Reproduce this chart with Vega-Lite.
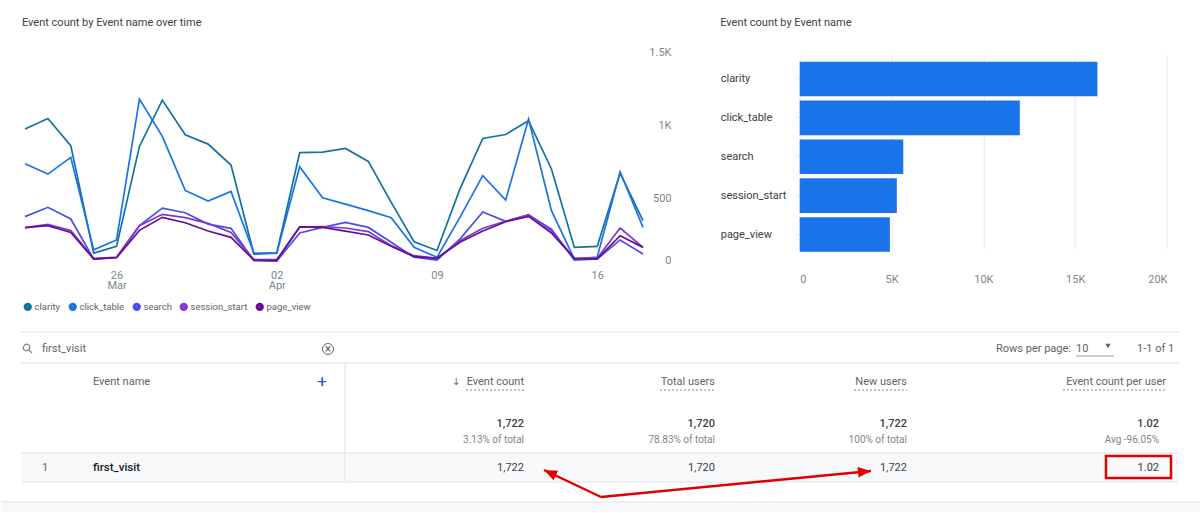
{
  "$schema": "https://vega.github.io/schema/vega-lite/v6.json",
  "background": "white",
  "padding": {"left": 0, "top": 17, "right": 0, "bottom": 0},
  "config": {
    "font": "Roboto",
    "view": {"stroke": null},
    "title": {"font": "Roboto", "fontSize": 11, "fontWeight": 400, "color": "#3c4043"}
  },
  "datasets": {
    "events": [
      {"date":"2023-03-22T00:00:00","event":"clarity","count":933},{"date":"2023-03-23T00:00:00","event":"clarity","count":1006},{"date":"2023-03-24T00:00:00","event":"clarity","count":819},{"date":"2023-03-25T00:00:00","event":"clarity","count":82},{"date":"2023-03-26T00:00:00","event":"clarity","count":128},{"date":"2023-03-27T00:00:00","event":"clarity","count":814},{"date":"2023-03-28T00:00:00","event":"clarity","count":1132},{"date":"2023-03-29T00:00:00","event":"clarity","count":894},{"date":"2023-03-30T00:00:00","event":"clarity","count":830},{"date":"2023-03-31T00:00:00","event":"clarity","count":686},
      {"date":"2023-04-01T00:00:00","event":"clarity","count":75},{"date":"2023-04-02T00:00:00","event":"clarity","count":82},{"date":"2023-04-03T00:00:00","event":"clarity","count":771},{"date":"2023-04-04T00:00:00","event":"clarity","count":775},{"date":"2023-04-05T00:00:00","event":"clarity","count":800},{"date":"2023-04-06T00:00:00","event":"clarity","count":711},{"date":"2023-04-07T00:00:00","event":"clarity","count":430},{"date":"2023-04-08T00:00:00","event":"clarity","count":160},{"date":"2023-04-09T00:00:00","event":"clarity","count":100},{"date":"2023-04-10T00:00:00","event":"clarity","count":521},
      {"date":"2023-04-11T00:00:00","event":"clarity","count":869},{"date":"2023-04-12T00:00:00","event":"clarity","count":896},{"date":"2023-04-13T00:00:00","event":"clarity","count":990},{"date":"2023-04-14T00:00:00","event":"clarity","count":659},{"date":"2023-04-15T00:00:00","event":"clarity","count":121},{"date":"2023-04-16T00:00:00","event":"clarity","count":128},{"date":"2023-04-17T00:00:00","event":"clarity","count":631},{"date":"2023-04-18T00:00:00","event":"clarity","count":304},

      {"date":"2023-03-22T00:00:00","event":"click_table","count":695},{"date":"2023-03-23T00:00:00","event":"click_table","count":624},{"date":"2023-03-24T00:00:00","event":"click_table","count":739},{"date":"2023-03-25T00:00:00","event":"click_table","count":105},{"date":"2023-03-26T00:00:00","event":"click_table","count":172},{"date":"2023-03-27T00:00:00","event":"click_table","count":1139},{"date":"2023-03-28T00:00:00","event":"click_table","count":883},{"date":"2023-03-29T00:00:00","event":"click_table","count":512},{"date":"2023-03-30T00:00:00","event":"click_table","count":439},{"date":"2023-03-31T00:00:00","event":"click_table","count":505},
      {"date":"2023-04-01T00:00:00","event":"click_table","count":82},{"date":"2023-04-02T00:00:00","event":"click_table","count":82},{"date":"2023-04-03T00:00:00","event":"click_table","count":675},{"date":"2023-04-04T00:00:00","event":"click_table","count":462},{"date":"2023-04-05T00:00:00","event":"click_table","count":418},{"date":"2023-04-06T00:00:00","event":"click_table","count":373},{"date":"2023-04-07T00:00:00","event":"click_table","count":325},{"date":"2023-04-08T00:00:00","event":"click_table","count":121},{"date":"2023-04-09T00:00:00","event":"click_table","count":53},{"date":"2023-04-10T00:00:00","event":"click_table","count":327},
      {"date":"2023-04-11T00:00:00","event":"click_table","count":613},{"date":"2023-04-12T00:00:00","event":"click_table","count":446},{"date":"2023-04-13T00:00:00","event":"click_table","count":1002},{"date":"2023-04-14T00:00:00","event":"click_table","count":373},{"date":"2023-04-15T00:00:00","event":"click_table","count":41},{"date":"2023-04-16T00:00:00","event":"click_table","count":55},{"date":"2023-04-17T00:00:00","event":"click_table","count":640},{"date":"2023-04-18T00:00:00","event":"click_table","count":258},

      {"date":"2023-03-22T00:00:00","event":"search","count":332},{"date":"2023-03-23T00:00:00","event":"search","count":396},{"date":"2023-03-24T00:00:00","event":"search","count":316},{"date":"2023-03-25T00:00:00","event":"search","count":41},{"date":"2023-03-26T00:00:00","event":"search","count":53},{"date":"2023-03-27T00:00:00","event":"search","count":270},{"date":"2023-03-28T00:00:00","event":"search","count":391},{"date":"2023-03-29T00:00:00","event":"search","count":359},{"date":"2023-03-30T00:00:00","event":"search","count":281},{"date":"2023-03-31T00:00:00","event":"search","count":252},
      {"date":"2023-04-01T00:00:00","event":"search","count":30},{"date":"2023-04-02T00:00:00","event":"search","count":27},{"date":"2023-04-03T00:00:00","event":"search","count":220},{"date":"2023-04-04T00:00:00","event":"search","count":258},{"date":"2023-04-05T00:00:00","event":"search","count":293},{"date":"2023-04-06T00:00:00","event":"search","count":258},{"date":"2023-04-07T00:00:00","event":"search","count":156},{"date":"2023-04-08T00:00:00","event":"search","count":53},{"date":"2023-04-09T00:00:00","event":"search","count":34},{"date":"2023-04-10T00:00:00","event":"search","count":178},
      {"date":"2023-04-11T00:00:00","event":"search","count":364},{"date":"2023-04-12T00:00:00","event":"search","count":300},{"date":"2023-04-13T00:00:00","event":"search","count":343},{"date":"2023-04-14T00:00:00","event":"search","count":247},{"date":"2023-04-15T00:00:00","event":"search","count":34},{"date":"2023-04-16T00:00:00","event":"search","count":41},{"date":"2023-04-17T00:00:00","event":"search","count":172},{"date":"2023-04-18T00:00:00","event":"search","count":75},

      {"date":"2023-03-22T00:00:00","event":"session_start","count":256},{"date":"2023-03-23T00:00:00","event":"session_start","count":279},{"date":"2023-03-24T00:00:00","event":"session_start","count":236},{"date":"2023-03-25T00:00:00","event":"session_start","count":46},{"date":"2023-03-26T00:00:00","event":"session_start","count":53},{"date":"2023-03-27T00:00:00","event":"session_start","count":270},{"date":"2023-03-28T00:00:00","event":"session_start","count":348},{"date":"2023-03-29T00:00:00","event":"session_start","count":325},{"date":"2023-03-30T00:00:00","event":"session_start","count":286},{"date":"2023-03-31T00:00:00","event":"session_start","count":224},
      {"date":"2023-04-01T00:00:00","event":"session_start","count":37},{"date":"2023-04-02T00:00:00","event":"session_start","count":37},{"date":"2023-04-03T00:00:00","event":"session_start","count":261},{"date":"2023-04-04T00:00:00","event":"session_start","count":263},{"date":"2023-04-05T00:00:00","event":"session_start","count":254},{"date":"2023-04-06T00:00:00","event":"session_start","count":229},{"date":"2023-04-07T00:00:00","event":"session_start","count":133},{"date":"2023-04-08T00:00:00","event":"session_start","count":64},{"date":"2023-04-09T00:00:00","event":"session_start","count":46},{"date":"2023-04-10T00:00:00","event":"session_start","count":167},
      {"date":"2023-04-11T00:00:00","event":"session_start","count":252},{"date":"2023-04-12T00:00:00","event":"session_start","count":300},{"date":"2023-04-13T00:00:00","event":"session_start","count":345},{"date":"2023-04-14T00:00:00","event":"session_start","count":236},{"date":"2023-04-15T00:00:00","event":"session_start","count":46},{"date":"2023-04-16T00:00:00","event":"session_start","count":46},{"date":"2023-04-17T00:00:00","event":"session_start","count":254},{"date":"2023-04-18T00:00:00","event":"session_start","count":121},

      {"date":"2023-03-22T00:00:00","event":"page_view","count":256},{"date":"2023-03-23T00:00:00","event":"page_view","count":270},{"date":"2023-03-24T00:00:00","event":"page_view","count":224},{"date":"2023-03-25T00:00:00","event":"page_view","count":41},{"date":"2023-03-26T00:00:00","event":"page_view","count":50},{"date":"2023-03-27T00:00:00","event":"page_view","count":238},{"date":"2023-03-28T00:00:00","event":"page_view","count":327},{"date":"2023-03-29T00:00:00","event":"page_view","count":290},{"date":"2023-03-30T00:00:00","event":"page_view","count":233},{"date":"2023-03-31T00:00:00","event":"page_view","count":190},
      {"date":"2023-04-01T00:00:00","event":"page_view","count":34},{"date":"2023-04-02T00:00:00","event":"page_view","count":32},{"date":"2023-04-03T00:00:00","event":"page_view","count":261},{"date":"2023-04-04T00:00:00","event":"page_view","count":258},{"date":"2023-04-05T00:00:00","event":"page_view","count":233},{"date":"2023-04-06T00:00:00","event":"page_view","count":206},{"date":"2023-04-07T00:00:00","event":"page_view","count":128},{"date":"2023-04-08T00:00:00","event":"page_view","count":57},{"date":"2023-04-09T00:00:00","event":"page_view","count":46},{"date":"2023-04-10T00:00:00","event":"page_view","count":156},
      {"date":"2023-04-11T00:00:00","event":"page_view","count":233},{"date":"2023-04-12T00:00:00","event":"page_view","count":297},{"date":"2023-04-13T00:00:00","event":"page_view","count":334},{"date":"2023-04-14T00:00:00","event":"page_view","count":220},{"date":"2023-04-15T00:00:00","event":"page_view","count":46},{"date":"2023-04-16T00:00:00","event":"page_view","count":41},{"date":"2023-04-17T00:00:00","event":"page_view","count":201},{"date":"2023-04-18T00:00:00","event":"page_view","count":121}
    ],
    "totals": [
      {"event":"clarity","count":16210},
      {"event":"click_table","count":11985},
      {"event":"search","count":5640},
      {"event":"session_start","count":5290},
      {"event":"page_view","count":4910}
    ],
    "gridlines": [{"count":0},{"count":500},{"count":1000},{"count":1500}],
    "cells": [
      {"kind":"plain","text":"first_visit","col":3,"row":3},
      {"kind":"plain","text":"1","col":3,"row":12},
      {"kind":"plain","text":"Rows per page:","col":18,"row":3},
      {"kind":"plain","text":"10","col":20,"row":3},
      {"kind":"plain","text":"1-1 of 1","col":24,"row":3},
      {"kind":"headLeft","text":"Event name","col":4,"row":6},
      {"kind":"name","text":"first_visit","col":4,"row":12},
      {"kind":"head","text":"Event count","col":10,"row":6},
      {"kind":"head","text":"Total users","col":14,"row":6},
      {"kind":"head","text":"New users","col":17,"row":6},
      {"kind":"head","text":"Event count per user","col":26,"row":6},
      {"kind":"total","text":"1,722","col":10,"row":8},
      {"kind":"total","text":"1,720","col":14,"row":8},
      {"kind":"total","text":"1,722","col":17,"row":8},
      {"kind":"total","text":"1.02","col":25,"row":8},
      {"kind":"sub","text":"3.13% of total","col":10,"row":9},
      {"kind":"sub","text":"78.83% of total","col":14,"row":9},
      {"kind":"sub","text":"100% of total","col":17,"row":9},
      {"kind":"sub","text":"Avg -96.05%","col":25,"row":9},
      {"kind":"body","text":"1,722","col":10,"row":12},
      {"kind":"body","text":"1,720","col":14,"row":12},
      {"kind":"body","text":"1,722","col":17,"row":12},
      {"kind":"body","text":"1.02","col":25,"row":12},
      {"kind":"plus","text":"+","col":5,"row":6},
      {"kind":"sortArrow","text":"↓","col":8,"row":6},
      {"kind":"clear","text":"×","col":6,"row":3}
    ],
    "fills": [
      {"col":1,"col2":28,"row":10,"row2":16},
      {"col":0,"col2":29,"row":18,"row2":19}
    ],
    "hlines": [
      {"col":1,"col2":28,"row":1},
      {"col":1,"col2":28,"row":5},
      {"col":1,"col2":28,"row":10},
      {"col":1,"col2":28,"row":16},
      {"col":0,"col2":29,"row":18}
    ],
    "dashes": [
      {"col":9,"col2":10,"row":7},
      {"col":13,"col2":14,"row":7},
      {"col":15,"col2":17,"row":7},
      {"col":19,"col2":26,"row":7}
    ],
    "arrows": [
      {"name":"count","col":12,"row":17,"col2":11,"row2":13},
      {"name":"newUsers","col":12,"row":17,"col2":16,"row2":14}
    ]
  },
  "spacing": 287,
  "bounds": "flush",
  "vconcat": [
    {
      "spacing": 156.7,
      "bounds": "flush",
      "hconcat": [
        {
          "width": 642,
          "height": 224,
          "title": {"text": "Event count by Event name over time", "anchor": "start", "frame": "group", "dx": 21, "offset": 14},
          "encoding": {
            "x": {
              "field": "date",
              "type": "temporal",
              "scale": {
                "domain": [{"year": 2023, "month": 3, "date": 22}, {"year": 2023, "month": 4, "date": 18}],
                "range": [24, 642]
              },
              "axis": {
                "title": null,
                "grid": false,
                "domain": false,
                "ticks": false,
                "values": [{"year": 2023, "month": 3, "date": 26}, {"year": 2023, "month": 4, "date": 2}, {"year": 2023, "month": 4, "date": 9}, {"year": 2023, "month": 4, "date": 16}],
                "labelExpr": "timeFormat(datum.value, '%d') == '26' ? ['26', 'Mar'] : timeFormat(datum.value, '%d') == '02' ? ['02', 'Apr'] : timeFormat(datum.value, '%d')",
                "labelColor": "#80868b",
                "labelFontSize": 11,
                "labelLineHeight": 10,
                "labelPadding": 3
              }
            },
            "y": {
              "field": "count",
              "type": "quantitative",
              "scale": {"domain": [0, 1500], "range": [223, 4.5], "nice": false},
              "axis": {
                "title": null,
                "orient": "right",
                "grid": false,
                "domain": false,
                "ticks": false,
                "values": [0, 500, 1000, 1500],
                "labelExpr": "datum.value == 0 ? '0' : datum.value == 500 ? '500' : datum.value / 1000 + 'K'",
                "labelColor": "#80868b",
                "labelFontSize": 11,
                "labelAlign": "right",
                "labelPadding": 28,
                "labelBaseline": {"condition": {"test": "datum.value == 0", "value": "bottom"}, "value": "top"}
              }
            }
          },
          "layer": [
            {
              "data": {"name": "gridlines"},
              "mark": {"type": "rule", "color": "#f1f3f4", "strokeWidth": 1.2},
              "encoding": {
                "x": {"datum": {"year": 2023, "month": 3, "date": 22}},
                "x2": {"datum": {"year": 2023, "month": 4, "date": 18}}
              }
            },
            {
              "data": {"name": "gridlines"},
              "mark": {"type": "rule", "color": "#f1f3f4", "strokeWidth": 1.2},
              "encoding": {
                "x": {"datum": {"year": 2023, "month": 4, "date": 18, "hours": 5}},
                "x2": {"datum": {"year": 2023, "month": 4, "date": 19, "hours": 6}}
              }
            },
            {
              "data": {"name": "events"},
              "mark": {"type": "line", "strokeWidth": 1.7, "interpolate": "linear"},
              "encoding": {
                "color": {
                  "field": "event",
                  "type": "nominal",
                  "scale": {
                    "domain": ["clarity", "click_table", "search", "session_start", "page_view"],
                    "range": ["#12739f", "#1a73e8", "#4b4ee8", "#7b3ad0", "#6a0d91"]
                  },
                  "legend": {
                    "title": null,
                    "orient": "none",
                    "legendX": 22,
                    "legendY": 260,
                    "direction": "horizontal",
                    "columns": 5,
                    "columnPadding": 0,
                    "symbolType": "circle",
                    "symbolSize": 14,
                    "symbolStrokeWidth": 4.6,
                    "labelFontSize": 9.5,
                    "labelColor": "#5f6368",
                    "labelOffset": 2
                  }
                }
              }
            }
          ]
        },
        {
          "width": 367.3,
          "height": 224,
          "title": {"text": "Event count by Event name", "anchor": "start", "frame": "group", "dx": -79.5, "offset": 14},
          "data": {"name": "totals"},
          "mark": {"type": "bar", "color": "#1a73e8"},
          "encoding": {
            "x": {
              "field": "count",
              "type": "quantitative",
              "scale": {"domain": [0, 20000], "nice": false},
              "axis": {
                "title": null,
                "values": [0, 5000, 10000, 15000, 20000],
                "labelExpr": "datum.value == 0 ? '0' : datum.value / 1000 + 'K'",
                "grid": true,
                "gridColor": "#e8eaed",
                "domain": false,
                "ticks": false,
                "labelColor": "#80868b",
                "labelFontSize": 11,
                "labelPadding": 7
              }
            },
            "y": {
              "field": "event",
              "type": "nominal",
              "sort": null,
              "scale": {"range": [17.5, 212], "paddingInner": 0.11, "paddingOuter": 0.055},
              "axis": {
                "title": null,
                "domain": false,
                "tickColor": "#e8eaed",
                "tickSize": 4,
                "labelAlign": "left",
                "labelPadding": 75.5,
                "labelColor": "#3c4043",
                "labelFontSize": 11,
                "labelFontWeight": 400
              }
            }
          }
        }
      ]
    },
    {
      "width": 1200,
      "height": 183,
      "encoding": {
        "x": {
          "field": "col",
          "type": "quantitative",
          "axis": null,
          "scale": {
            "domain": [0,1,2,3,4,5,6,7,8,9,10,11,12,13,14,15,16,17,18,19,20,21,22,23,24,25,26,27,28,29],
            "range": [0,20,27,41,92,321,327,344,455,465,523,543,600,659,714,853,870,906,995,1062,1075,1105,1107,1113,1136,1158,1165,1170,1178,1200]
          }
        },
        "y": {
          "field": "row",
          "type": "quantitative",
          "axis": null,
          "scale": {
            "domain": [0,1,2,3,4,5,6,7,8,9,10,11,12,13,14,15,16,17,18,19],
            "range": [0,3,17,20,27,34,53,61,95,111,124,127,139,141,142,149,153,168,173,183]
          }
        }
      },
      "layer": [
        {
          "data": {"name": "fills"},
          "mark": {"type": "rect", "color": "#f8f9fb"},
          "encoding": {"x2": {"field": "col2"}, "y2": {"field": "row2"}}
        },
        {
          "data": {"name": "hlines"},
          "mark": {"type": "rule", "color": "#e8eaed", "strokeWidth": 1.5},
          "encoding": {"x2": {"field": "col2"}}
        },
        {
          "data": {"values": [{"col": 7, "row": 5, "row2": 16}]},
          "mark": {"type": "rule", "color": "#e8eaed", "strokeWidth": 1.5},
          "encoding": {"y2": {"field": "row2"}}
        },
        {
          "data": {"name": "dashes"},
          "mark": {"type": "rule", "color": "#80868b", "strokeWidth": 1, "strokeDash": [2, 2]},
          "encoding": {"x2": {"field": "col2"}}
        },
        {
          "data": {"name": "cells"},
          "transform": [{"filter": "datum.kind == 'plain'"}],
          "mark": {"type": "text", "align": "left", "baseline": "middle", "fontSize": 11, "color": "#5f6368"},
          "encoding": {"text": {"field": "text"}}
        },
        {
          "data": {"name": "cells"},
          "transform": [{"filter": "datum.kind == 'headLeft'"}],
          "mark": {"type": "text", "align": "left", "baseline": "middle", "fontSize": 11, "fontWeight": 400, "color": "#5f6368"},
          "encoding": {"text": {"field": "text"}}
        },
        {
          "data": {"name": "cells"},
          "transform": [{"filter": "datum.kind == 'name'"}],
          "mark": {"type": "text", "align": "left", "baseline": "middle", "fontSize": 11.5, "fontWeight": 500, "color": "#202124"},
          "encoding": {"text": {"field": "text"}}
        },
        {
          "data": {"name": "cells"},
          "transform": [{"filter": "datum.kind == 'head'"}],
          "mark": {"type": "text", "align": "right", "baseline": "middle", "fontSize": 11, "fontWeight": 400, "color": "#5f6368"},
          "encoding": {"text": {"field": "text"}}
        },
        {
          "data": {"name": "cells"},
          "transform": [{"filter": "datum.kind == 'total'"}],
          "mark": {"type": "text", "align": "right", "baseline": "middle", "fontSize": 11, "fontWeight": 500, "color": "#3c4043"},
          "encoding": {"text": {"field": "text"}}
        },
        {
          "data": {"name": "cells"},
          "transform": [{"filter": "datum.kind == 'sub'"}],
          "mark": {"type": "text", "align": "right", "baseline": "middle", "fontSize": 10, "color": "#80868b"},
          "encoding": {"text": {"field": "text"}}
        },
        {
          "data": {"name": "cells"},
          "transform": [{"filter": "datum.kind == 'body'"}],
          "mark": {"type": "text", "align": "right", "baseline": "middle", "fontSize": 11, "color": "#3c4043"},
          "encoding": {"text": {"field": "text"}}
        },
        {
          "data": {"name": "cells"},
          "transform": [{"filter": "datum.kind == 'plus'"}],
          "mark": {"type": "text", "align": "center", "baseline": "middle", "fontSize": 17, "color": "#1a56c4"},
          "encoding": {"text": {"field": "text"}}
        },
        {
          "data": {"name": "cells"},
          "transform": [{"filter": "datum.kind == 'sortArrow'"}],
          "mark": {"type": "text", "align": "center", "baseline": "middle", "font": "DejaVu Sans", "fontSize": 10, "color": "#5f6368"},
          "encoding": {"text": {"field": "text"}}
        },
        {
          "data": {"name": "cells"},
          "transform": [{"filter": "datum.kind == 'clear'"}],
          "mark": {"type": "text", "align": "center", "baseline": "middle", "fontSize": 12, "color": "#5f6368"},
          "encoding": {"text": {"field": "text"}}
        },
        {
          "data": {"values": [{"col": 6, "row": 3}]},
          "mark": {"type": "point", "shape": "circle", "size": 120, "filled": false, "color": "#5f6368", "strokeWidth": 1, "opacity": 1}
        },
        {
          "data": {"values": [{"col": 2, "row": 3}]},
          "mark": {"type": "point", "shape": "M-0.9,-0.9 A0.75,0.75 0 1,0 0.15,0.15 A0.75,0.75 0 1,0 -0.9,-0.9 M0.1,0.1 L1,1", "size": 64, "filled": false, "color": "#80868b", "strokeWidth": 1.3, "opacity": 1}
        },
        {
          "data": {"values": [{"col": 22, "row": 2}]},
          "mark": {"type": "point", "shape": "triangle-down", "size": 28, "filled": true, "color": "#5f6368", "opacity": 1}
        },
        {
          "data": {"values": [{"col": 20, "col2": 23, "row": 4}]},
          "mark": {"type": "rule", "color": "#9aa0a6", "strokeWidth": 1},
          "encoding": {"x2": {"field": "col2"}}
        },
        {
          "data": {"values": [{"col": 21, "col2": 27, "row": 11, "row2": 15}]},
          "mark": {"type": "rect", "fill": null, "stroke": "#e00000", "strokeWidth": 2.5},
          "encoding": {"x2": {"field": "col2"}, "y2": {"field": "row2"}}
        },
        {
          "data": {"name": "arrows"},
          "mark": {"type": "rule", "color": "#e00000", "strokeWidth": 2.4},
          "encoding": {"x2": {"field": "col2"}, "y2": {"field": "row2"}}
        },
        {
          "data": {"values": [{"col": 11, "row": 13}]},
          "mark": {"type": "point", "shape": "M0,0 L-2,-0.8 L-2,0.8 Z", "size": 169, "angle": 205, "filled": true, "color": "#e00000", "opacity": 1}
        },
        {
          "data": {"values": [{"col": 16, "row": 14}]},
          "mark": {"type": "point", "shape": "M0,0 L-2,-0.8 L-2,0.8 Z", "size": 169, "angle": 354.5, "filled": true, "color": "#e00000", "opacity": 1}
        }
      ]
    }
  ]
}
